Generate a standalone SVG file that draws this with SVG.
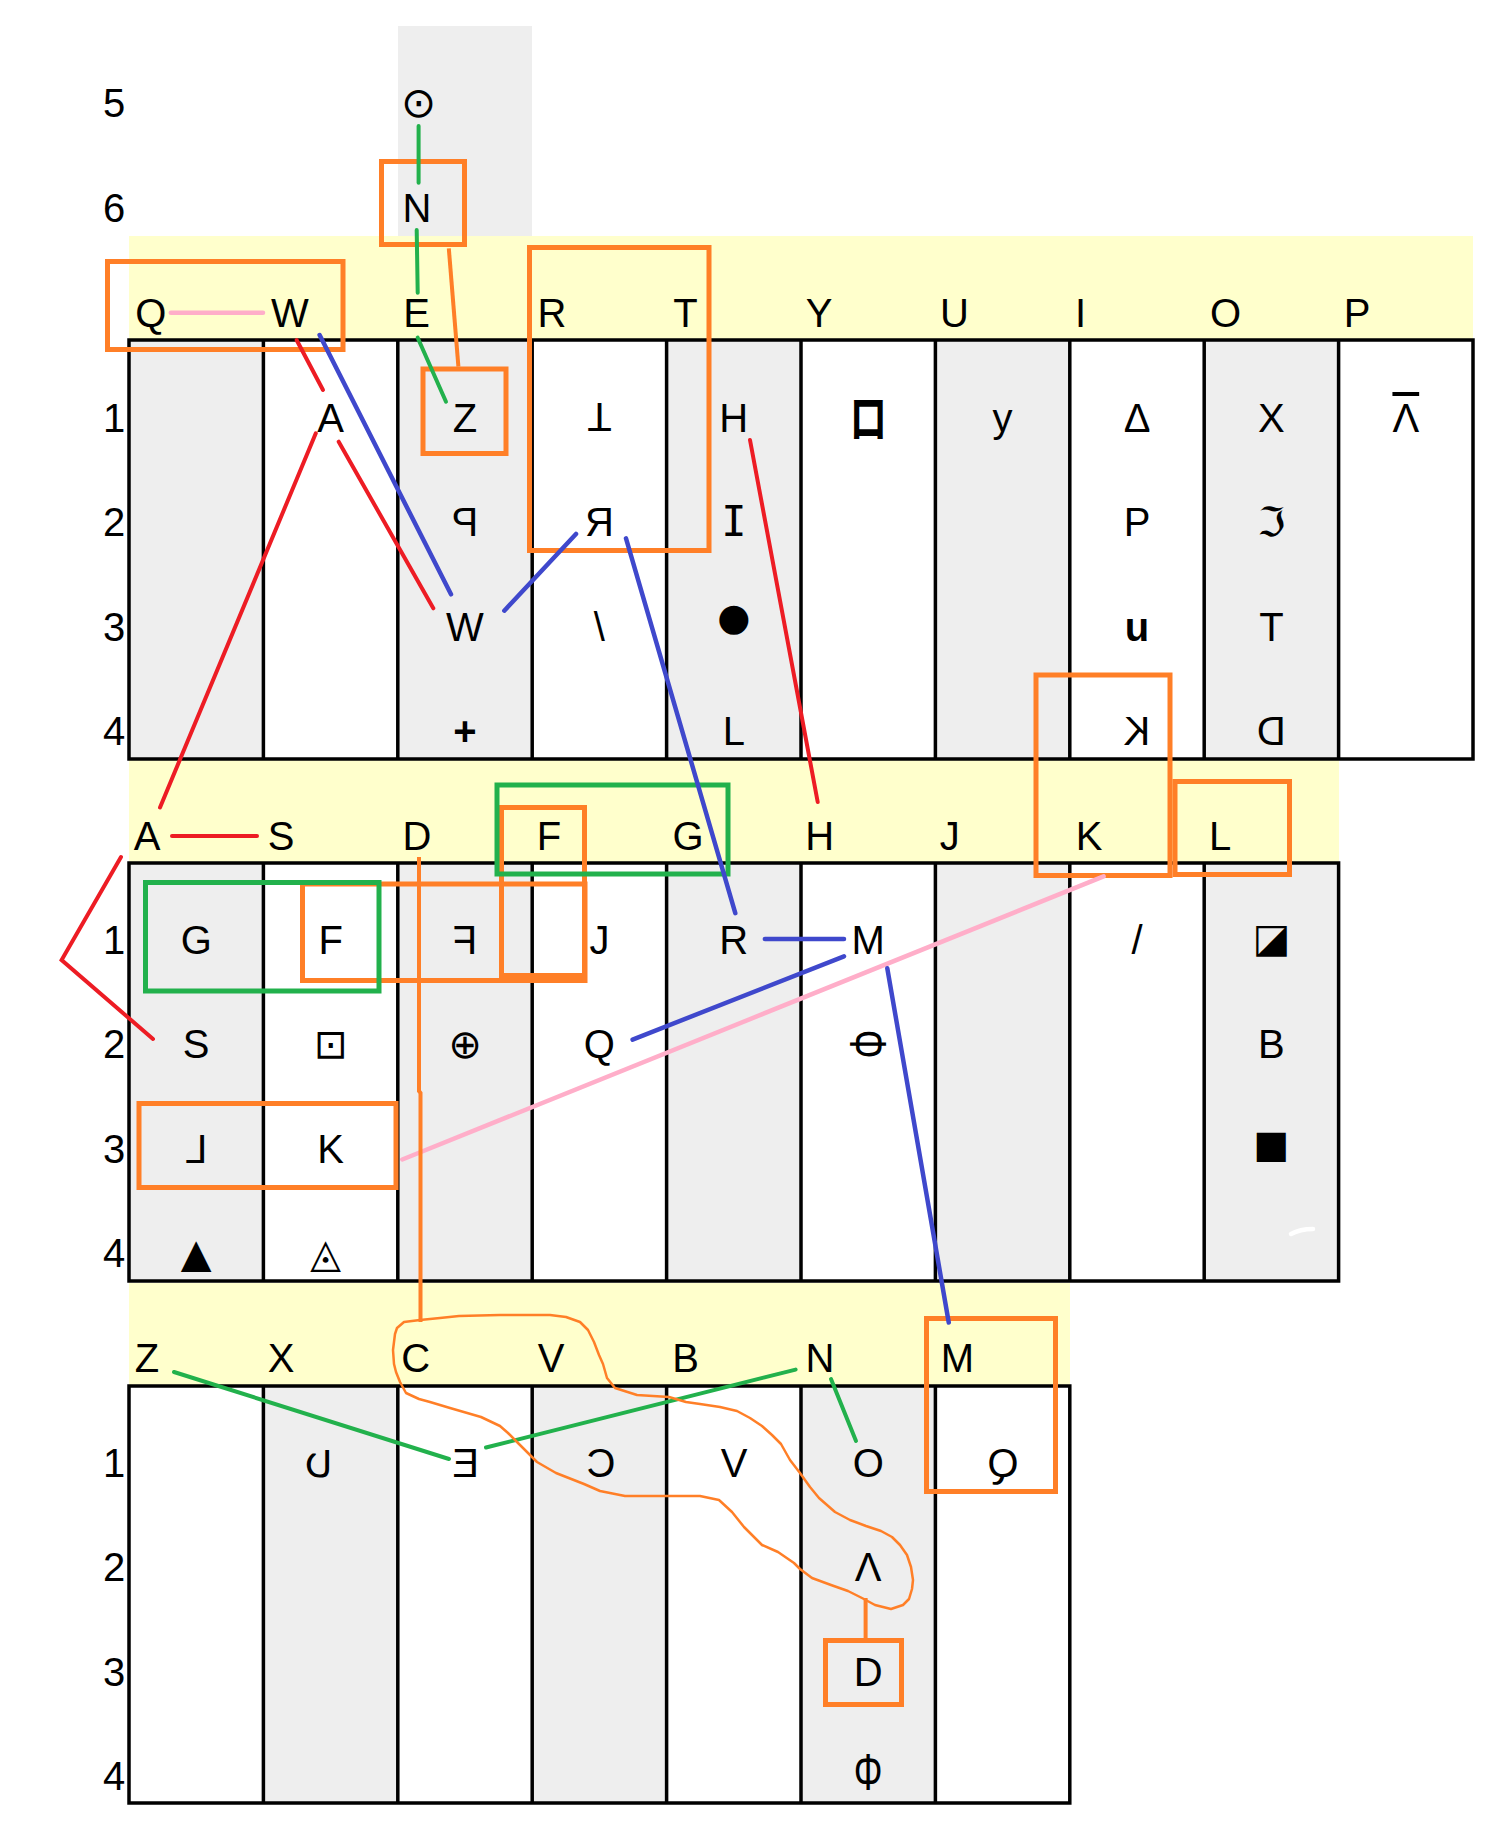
<svg xmlns="http://www.w3.org/2000/svg" width="1503" height="1838" viewBox="0 0 1503 1838">
<style>
.t{font-family:"Liberation Sans",Arial,sans-serif;font-size:40px;fill:#000;text-anchor:middle}
.d{font-family:"DejaVu Sans","Liberation Sans",sans-serif;fill:#000;text-anchor:middle}
.gray{fill:#EEEEEE}
.band{fill:#FFFFCC}
.grid{fill:none;stroke:#000;stroke-width:3.5}
.vl{stroke:#000;stroke-width:3.5}
.ob{fill:none;stroke:#FF7F27;stroke-width:5}
.gb{fill:none;stroke:#22B14C;stroke-width:5}
.cg{stroke:#22B14C;stroke-width:4;stroke-linecap:round;fill:none}
.cr{stroke:#ED1C24;stroke-width:4;stroke-linecap:round;fill:none}
.cb{stroke:#3F48CC;stroke-width:4.5;stroke-linecap:round;fill:none}
.cp{stroke:#FFAEC9;stroke-width:4.5;stroke-linecap:round;fill:none}
.co{stroke:#FF7F27;stroke-width:4;fill:none}
.loop{stroke:#FF7F27;stroke-width:2.5;fill:none;stroke-linejoin:round}
</style>
<rect width="1503" height="1838" fill="#fff"/>
<g id="background">
<rect class="gray" x="398" y="26" width="134" height="210"/>
<rect class="band" x="129" y="236" width="1344" height="104"/>
<rect class="band" x="129" y="759" width="1210" height="104"/>
<rect class="band" x="129" y="1283" width="941" height="103"/>
<rect class="gray" x="129" y="340" width="134.4" height="419"/>
<rect class="gray" x="397.8" y="340" width="134.4" height="419"/>
<rect class="gray" x="666.6" y="340" width="134.4" height="419"/>
<rect class="gray" x="935.4" y="340" width="134.4" height="419"/>
<rect class="gray" x="1204.2" y="340" width="134.4" height="419"/>
<rect class="gray" x="129" y="863" width="134.4" height="418"/>
<rect class="gray" x="397.8" y="863" width="134.4" height="418"/>
<rect class="gray" x="666.6" y="863" width="134.4" height="418"/>
<rect class="gray" x="935.4" y="863" width="134.4" height="418"/>
<rect class="gray" x="1204.2" y="863" width="134.4" height="418"/>
<rect class="gray" x="263.4" y="1386" width="134.4" height="417"/>
<rect class="gray" x="532.2" y="1386" width="134.4" height="417"/>
<rect class="gray" x="801" y="1386" width="134.4" height="417"/>
<path d="M1291 1234 Q1300 1229 1313 1229" stroke="#fff" stroke-width="4.5" stroke-linecap="round" fill="none"/>
</g>
<g id="grids">
<rect class="grid" x="129" y="340" width="1344" height="419"/>
<path class="vl" d="M263.4 340V759M397.8 340V759M532.2 340V759M666.6 340V759M801 340V759M935.4 340V759M1069.8 340V759M1204.2 340V759M1338.6 340V759"/>
<rect class="grid" x="129" y="863" width="1209.6" height="418"/>
<path class="vl" d="M263.4 863V1281M397.8 863V1281M532.2 863V1281M666.6 863V1281M801 863V1281M935.4 863V1281M1069.8 863V1281M1204.2 863V1281"/>
<rect class="grid" x="129" y="1386" width="940.8" height="417"/>
<path class="vl" d="M263.4 1386V1803M397.8 1386V1803M532.2 1386V1803M666.6 1386V1803M801 1386V1803M935.4 1386V1803"/>
</g>
<g id="row-labels">
<text class="t" x="114" y="117">5</text>
<text class="t" x="114" y="222">6</text>
<text class="t" x="114" y="432">1</text>
<text class="t" x="114" y="536">2</text>
<text class="t" x="114" y="641">3</text>
<text class="t" x="114" y="745">4</text>
<text class="t" x="114" y="954">1</text>
<text class="t" x="114" y="1058">2</text>
<text class="t" x="114" y="1163">3</text>
<text class="t" x="114" y="1267">4</text>
<text class="t" x="114" y="1477">1</text>
<text class="t" x="114" y="1581">2</text>
<text class="t" x="114" y="1686">3</text>
<text class="t" x="114" y="1790">4</text>
</g>
<g id="boxes">
<rect class="ob" x="381.5" y="161.5" width="83" height="83"/>
<rect class="ob" x="107.5" y="261.5" width="235.5" height="88"/>
<rect class="ob" x="423" y="369" width="83" height="84.5"/>
<rect class="ob" x="529.5" y="247.5" width="179.5" height="303"/>
<rect class="ob" x="1036" y="675" width="134" height="200.5"/>
<rect class="ob" x="1175" y="781.5" width="114.5" height="93"/>
<rect class="ob" x="302.5" y="884" width="282.5" height="96.5"/>
<rect class="ob" x="501.5" y="807.5" width="83" height="168"/>
<rect class="ob" x="139" y="1103.5" width="257" height="84"/>
<rect class="ob" x="926.5" y="1318.5" width="129" height="173"/>
<rect class="ob" x="825.5" y="1640.5" width="76" height="64"/>
<rect class="gb" x="497" y="785" width="231" height="89"/>
<rect class="gb" x="145.5" y="882.5" width="233.5" height="108.5"/>
</g>
<g id="nodes">
<g id="n-r5-O"><text class="d" x="418.6" y="117" font-size="42">⊙</text></g>
<g id="n-r6-N"><text class="t" x="417" y="222">N</text></g>
<g id="h1-Q"><text class="t" x="150.7" y="327">Q</text></g>
<g id="h1-W"><text class="t" x="290" y="327">W</text></g>
<g id="h1-E"><text class="t" x="416.5" y="327">E</text></g>
<g id="h1-R"><text class="t" x="552" y="327">R</text></g>
<g id="h1-T"><text class="t" x="685.5" y="327">T</text></g>
<g id="h1-Y"><text class="t" x="819" y="327">Y</text></g>
<g id="h1-U"><text class="t" x="954.5" y="327">U</text></g>
<g id="h1-I"><text class="t" x="1080.5" y="327">I</text></g>
<g id="h1-O"><text class="t" x="1225.5" y="327">O</text></g>
<g id="h1-P"><text class="t" x="1357" y="327">P</text></g>
<g id="c1-A"><text class="t" x="330.6" y="432">A</text></g>
<g id="c1-Z"><text class="t" x="465" y="432">Z</text></g>
<g id="c1-T"><text class="t" x="599.4" y="432" transform="rotate(180 599.4 417.7)">T</text></g>
<g id="c1-H"><text class="t" x="733.8" y="432">H</text></g>
<g id="c1-box"><text x="0" y="0" font-size="38" font-weight="bold" text-anchor="middle" style="font-family:'Noto Sans CJK JP','Noto Sans CJK SC',sans-serif" transform="translate(868.2 438) scale(1 1.4)">ロ</text></g>
<g id="c1-y"><text class="t" x="1002.6" y="432">y</text></g>
<g id="c1-delta"><text class="t" x="1137" y="432">Δ</text></g>
<g id="c1-X"><text class="t" x="1271.4" y="432">X</text></g>
<g id="c1-lambda"><text class="t" x="1405.8" y="432" text-decoration="overline">Λ</text></g>
<g id="c1-P-rev"><text class="t" x="0" y="536" transform="translate(465 0) scale(-1 1)">P</text></g>
<g id="c1-ya"><text class="t" x="599.4" y="536">Я</text></g>
<g id="c1-I"><text class="d" x="733.8" y="536" font-size="42" style="font-family:'DejaVu Sans Mono',monospace">I</text></g>
<g id="c1-P"><text class="t" x="1137" y="536">P</text></g>
<g id="c1-frak"><text class="d" x="1271.4" y="536" font-size="40">ℑ</text></g>
<g id="c1-W"><text class="t" x="465" y="641">W</text></g>
<g id="c1-bslash"><text class="t" x="599.4" y="641">\</text></g>
<g id="c1-dot"><text class="d" x="733.8" y="630" font-size="38">●</text></g>
<g id="c1-u"><text class="t" x="1137" y="641" font-size="56" font-weight="bold">u</text></g>
<g id="c1-T2"><text class="t" x="1271.4" y="641">T</text></g>
<g id="c1-plus"><text class="t" x="465" y="745" font-weight="bold">+</text></g>
<g id="c1-L"><text class="t" x="733.8" y="745">L</text></g>
<g id="c1-K-rev"><text class="t" x="0" y="745" transform="translate(1137 0) scale(-1 1)">K</text></g>
<g id="c1-D-rev"><text class="t" x="0" y="745" transform="translate(1271.4 0) scale(-1 1)">D</text></g>
<g id="h2-A"><text class="t" x="147" y="850">A</text></g>
<g id="h2-S"><text class="t" x="281" y="850">S</text></g>
<g id="h2-D"><text class="t" x="417" y="850">D</text></g>
<g id="h2-F"><text class="t" x="549" y="850">F</text></g>
<g id="h2-G"><text class="t" x="688" y="850">G</text></g>
<g id="h2-H"><text class="t" x="819.6" y="850">H</text></g>
<g id="h2-J"><text class="t" x="949.7" y="850">J</text></g>
<g id="h2-K"><text class="t" x="1089" y="850">K</text></g>
<g id="h2-L"><text class="t" x="1220" y="850">L</text></g>
<g id="c2-G"><text class="t" x="196.2" y="954">G</text></g>
<g id="c2-F"><text class="t" x="330.6" y="954">F</text></g>
<g id="c2-F-rev"><text class="t" x="0" y="954" transform="translate(465 0) scale(-1 1)">F</text></g>
<g id="c2-J"><text class="t" x="599.4" y="954">J</text></g>
<g id="c2-R"><text class="t" x="733.8" y="954">R</text></g>
<g id="c2-M"><text class="t" x="868.2" y="954">M</text></g>
<g id="c2-slash"><text class="t" x="1137" y="954">/</text></g>
<g id="c2-half"><text class="d" x="1271.4" y="952" font-size="40">◪</text></g>
<g id="c2-S"><text class="t" x="196.2" y="1058">S</text></g>
<g id="c2-sqdot"><text class="d" x="330.6" y="1058" font-size="40">⊡</text></g>
<g id="c2-oplus"><text class="d" x="465" y="1058" font-size="40">⊕</text></g>
<g id="c2-Q"><text class="t" x="599.4" y="1058">Q</text></g>
<g id="c2-phi-rot"><text class="t" x="0" y="14.3" transform="translate(868.2 1044) rotate(90) scale(0.9 1.3)">Φ</text></g>
<g id="c2-B"><text class="t" x="1271.4" y="1058">B</text></g>
<g id="c2-L-rev"><text class="t" x="0" y="1163" transform="translate(196.2 0) scale(-1 1)">L</text></g>
<g id="c2-K"><text class="t" x="330.6" y="1163">K</text></g>
<g id="c2-square"><text class="d" x="1271.4" y="1157" font-size="38">■</text></g>
<g id="c2-tri"><text class="d" x="196.2" y="1267" font-size="40">▲</text></g>
<g id="c2-tridot"><text class="d" x="325.6" y="1267" font-size="40">◬</text></g>
<g id="h3-Z"><text class="t" x="147" y="1372">Z</text></g>
<g id="h3-X"><text class="t" x="281" y="1372">X</text></g>
<g id="h3-C"><text class="t" x="415.6" y="1372">C</text></g>
<g id="h3-V"><text class="t" x="551" y="1372">V</text></g>
<g id="h3-B"><text class="t" x="685.6" y="1372">B</text></g>
<g id="h3-N"><text class="t" x="820" y="1372">N</text></g>
<g id="h3-M"><text class="t" x="957.5" y="1372">M</text></g>
<g id="c3-hook"><text class="d" x="0" y="1477" font-size="38" transform="translate(319 0) scale(-1 1)">Ʋ</text></g>
<g id="c3-E-rev"><text class="t" x="0" y="1477" transform="translate(465.6 0) scale(-1 1)">E</text></g>
<g id="c3-C-rev"><text class="t" x="0" y="1477" transform="translate(601 0) scale(-1 1)">C</text></g>
<g id="c3-V"><text class="t" x="734" y="1477">V</text></g>
<g id="c3-O"><text class="t" x="868.2" y="1477">O</text></g>
<g id="c3-Q-rev"><text class="t" x="0" y="1477" transform="translate(1003 0) scale(-1 1)">Q</text></g>
<g id="c3-lambda"><text class="t" x="868.2" y="1581">Λ</text></g>
<g id="c3-D"><text class="t" x="868.2" y="1686">D</text></g>
<g id="c3-phi"><text class="t" x="0" y="0" transform="translate(868.2 1790) scale(0.9 1.3)">Φ</text></g>
</g>
<g id="connectors">
<line class="cg" x1="418.6" y1="126" x2="418.6" y2="182.7"/>
<line class="cg" x1="416.7" y1="230" x2="417.7" y2="292.7"/>
<line class="cg" x1="417.7" y1="337.7" x2="446" y2="401.7"/>
<line class="cg" x1="174" y1="1372" x2="449" y2="1459"/>
<line class="cg" x1="486" y1="1447.5" x2="795.6" y2="1369.6"/>
<line class="cg" x1="831" y1="1379" x2="856" y2="1441"/>
<line class="cp" x1="170.8" y1="312.7" x2="263" y2="312.7"/>
<line class="cp" x1="1103.6" y1="876.4" x2="402.3" y2="1159.5"/>
<line class="cr" x1="296.6" y1="340" x2="323" y2="390"/>
<line class="cr" x1="338.7" y1="441.7" x2="433.3" y2="608.3"/>
<line class="cr" x1="315.8" y1="433.3" x2="160" y2="807.5"/>
<line class="cr" x1="172" y1="836" x2="257" y2="836"/>
<polyline class="cr" points="121,857 61.6,960 153,1039"/>
<line class="cr" x1="750" y1="440" x2="817.7" y2="802"/>
<line class="cb" x1="319.6" y1="335" x2="451" y2="594.3"/>
<line class="cb" x1="504.3" y1="610.7" x2="576" y2="534"/>
<line class="cb" x1="626" y1="538.3" x2="735.3" y2="913.2"/>
<line class="cb" x1="764.9" y1="939" x2="844" y2="939"/>
<line class="cb" x1="844" y1="956.3" x2="632.6" y2="1039.6"/>
<line class="cb" x1="887.3" y1="968.3" x2="948.75" y2="1322.5"/>
<line class="co" x1="448.8" y1="248.3" x2="458.4" y2="366.7"/>
<polyline class="co" points="419,857 419,1091 420.5,1093 420.5,1322"/>
<line class="co" x1="865.6" y1="1598" x2="865.6" y2="1638"/>
<path class="loop" d="M397 1328 L404 1322 L420 1320 L440 1318 L459 1316 L500 1315 L550 1315 L566 1317 L580 1322 L588 1330 L594 1342 L599 1355 L603 1364 L607 1378 L615 1388 L637 1395 L669 1397 L686 1402 L700 1404 L720 1407 L737 1411 L750 1418 L762 1426 L772 1435 L781 1444 L790 1460 L800 1473 L810 1487 L819 1498 L835 1512 L850 1520 L866 1526 L881 1531 L892 1537 L900 1545 L907 1555 L911 1567 L913 1580 L912 1589 L909 1599 L903 1605 L891 1609 L875 1605 L862 1598 L848 1591 L831 1585 L812 1578 L800 1569 L794 1563 L778 1552 L762 1545 L752 1535 L744 1527 L732 1512 L719 1500 L700 1496 L660 1496 L625 1496 L600 1491 L584 1484 L556 1473 L537 1462 L528 1453 L519 1444 L508 1433 L500 1426 L481 1417 L450 1408 L430 1402 L419 1399 L406 1393 L400 1382 L396 1372 L394 1364 L393 1350 L394 1342 L395 1334 Z"/>
</g>
</svg>
